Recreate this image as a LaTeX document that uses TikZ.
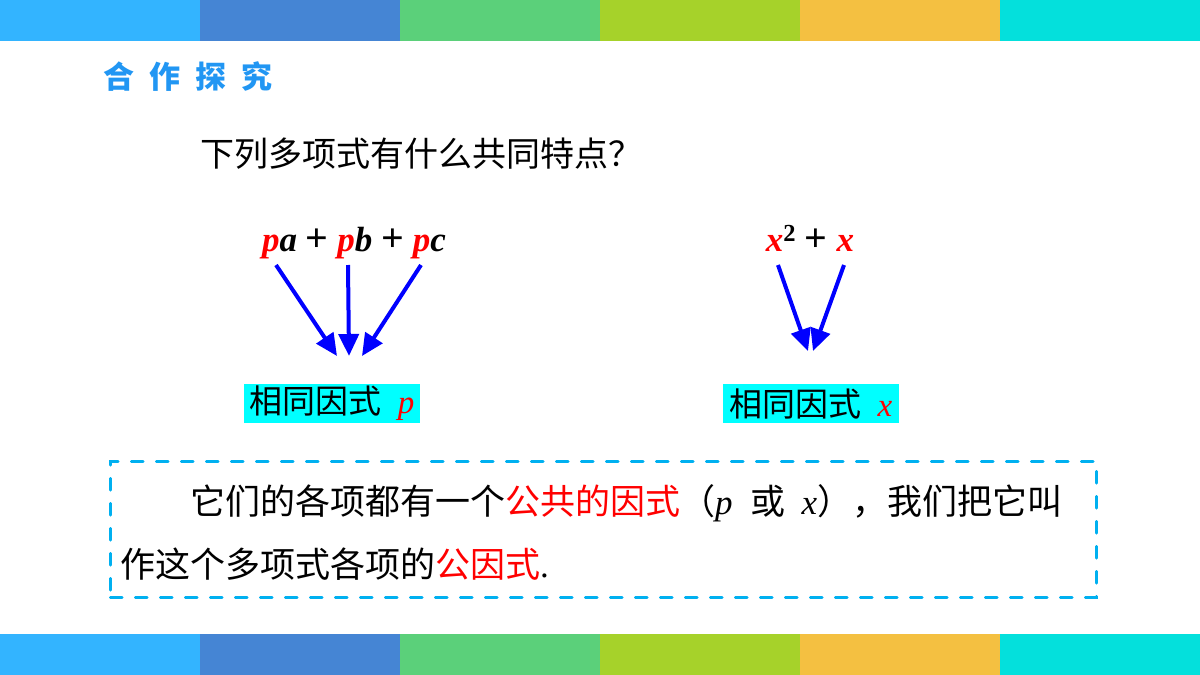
\documentclass[tikz,border=0pt]{standalone}
\usepackage{fontspec}
\setmainfont{Liberation Serif}
\newfontfamily\cjk{Noto Sans CJK SC}
\usepackage{xcolor}
\usetikzlibrary{arrows.meta,positioning}

\definecolor{barA}{RGB}{51,180,255}
\definecolor{barB}{RGB}{69,133,212}
\definecolor{barC}{RGB}{91,208,122}
\definecolor{barD}{RGB}{166,210,42}
\definecolor{barE}{RGB}{244,192,65}
\definecolor{barF}{RGB}{4,224,220}
\definecolor{titleblue}{RGB}{33,150,243}
\definecolor{boxblue}{RGB}{0,176,240}
\definecolor{arrowblue}{RGB}{0,0,255}
\definecolor{factorcyan}{RGB}{0,255,255}

\begin{document}
\begin{tikzpicture}[
    x=1pt, y=-1pt,
    every node/.style={inner sep=0pt},
    cjktext/.style={font=\cjk\fontsize{34}{40}\selectfont},
    factor/.style={fill=factorcyan, minimum width=176pt, minimum height=39pt, font=\cjk\fontsize{33}{36}\selectfont},
    arrow/.style={-{Triangle[length=22pt, width=20pt]}, line width=4pt, draw=arrowblue},
    notebox/.style={draw=boxblue, line width=2.5pt, line cap=round, dash pattern=on 12pt off 13pt, minimum width=986pt, minimum height=136pt, anchor=north west}
]
    \useasboundingbox (0,0) rectangle (1200,675);

    % colour bars
    \foreach \c [count=\i from 0] in {barA,barB,barC,barD,barE,barF} {
        \fill[\c] (\i*200,0) rectangle ++(200,41);
        \fill[\c] (\i*200,634) rectangle ++(200,41);
    }

    % heading and question
    \node[anchor=base west, font=\cjk\bfseries\fontsize{31}{36}\selectfont, text=titleblue] (title) at (103,88)
        {合\hspace{15pt}作\hspace{15pt}探\hspace{15pt}究};
    \node[cjktext, anchor=base west] (question) at (200,166) {下列多项式有什么共同特点？};

    % the two polynomials
    \node[anchor=base, font=\fontsize{35}{40}\selectfont\bfseries\itshape] (polyp) at (354,251)
        {\textcolor{red}{p}a {\upshape\fontsize{40}{40}\selectfont+} \textcolor{red}{p}b {\upshape\fontsize{40}{40}\selectfont+} \textcolor{red}{p}c};
    \node[anchor=base, font=\fontsize{35}{40}\selectfont\bfseries\itshape] (polyx) at (810,251)
        {\textcolor{red}{x}\textsuperscript{\upshape 2} {\upshape\fontsize{40}{40}\selectfont+} \textcolor{red}{x}};

    % common factors
    \node[factor] (factorp) at (332,403.5) {相同因式\hspace{16pt}{\rmfamily\itshape\color{red}p}};
    \node[factor] (factorx) at (811,403.5) {相同因式\hspace{16pt}{\rmfamily\itshape\color{red}x}};

    % arrow ends
    \coordinate (pa) at (276,265);
    \coordinate (pb) at (348,265);
    \coordinate (pc) at (421,265);
    \coordinate (pend) at (349,356);
    \coordinate (xsq) at (778,265);
    \coordinate (xone) at (844,265);
    \coordinate (xend) at (811,351);

    \draw[arrow] (pa) -- ([xshift=-12pt]pend);
    \draw[arrow] (pb) -- (pend);
    \draw[arrow] (pc) -- ([xshift=13pt]pend);
    \draw[arrow] (xsq) -- ([xshift=-3pt]xend);
    \draw[arrow] (xone) -- ([xshift=2pt]xend);

    % conclusion
    \node[notebox] (note) at (109,460) {};
    \node[cjktext, anchor=base west, font=\cjk\fontsize{35}{40}\selectfont] (lineone) at (190,514)
        {它们的各项都有一个\textcolor{red}{公共的因式}（{\rmfamily\itshape p}\hspace{18pt}或\hspace{16pt}{\rmfamily\itshape x}），我们把它叫};
    \node[cjktext, anchor=base west, font=\cjk\fontsize{35}{40}\selectfont] (linetwo) at (120,577)
        {作这个多项式各项的\textcolor{red}{公因式}{\rmfamily .}};
\end{tikzpicture}
\end{document}
